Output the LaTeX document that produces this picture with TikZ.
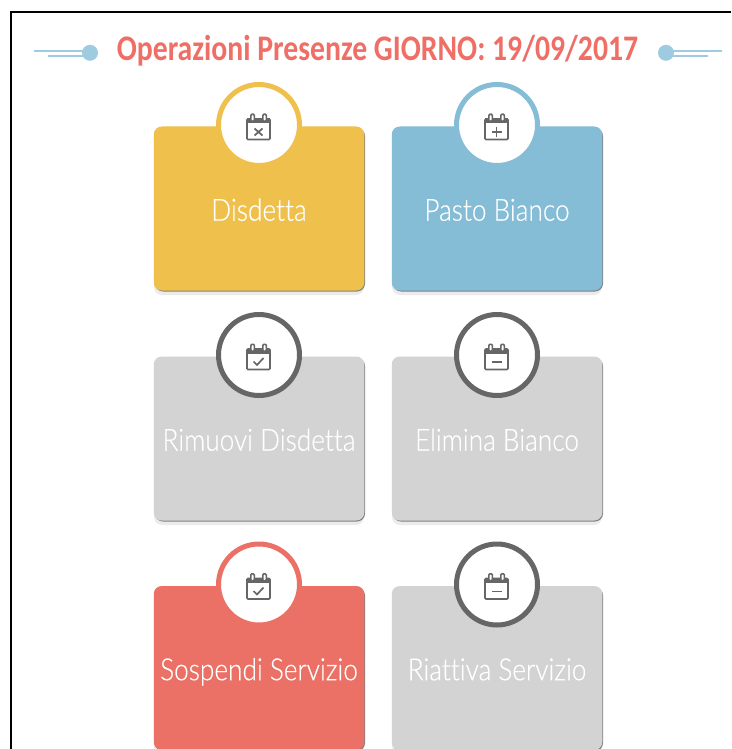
\documentclass[tikz,border=0pt]{standalone}
\usepackage{fontspec}
\setmainfont{Carlito}
\newfontfamily\titlefont[FakeStretch=0.825,Ligatures=NoCommon]{Carlito Bold}
\newfontfamily\labelfont[FakeStretch=0.86,FakeBold=0.35,Ligatures=NoCommon]{Lato Light}
\definecolor{cyellow}{HTML}{F0C04C}
\definecolor{cblue}{HTML}{85BCD6}
\definecolor{cgrey}{HTML}{D3D3D3}
\definecolor{cred}{HTML}{EB7065}
\definecolor{cring}{HTML}{666666}
\definecolor{cdeco}{HTML}{9ECBE0}
\definecolor{ctitle}{HTML}{EF6F66}
\tikzset{
  cardbox/.style={rounded corners=8pt,minimum width=210.5pt,minimum height=164pt,inner sep=0pt,draw=none},
  cardlabel/.style={text=white,font=\labelfont\fontsize{30.5}{30.5}\selectfont,inner sep=0pt,anchor=base},
  ringnode/.style={circle,fill=white,line width=5pt,minimum size=81pt,inner sep=0pt},
  decoline/.style={cdeco,line width=2pt},
  decodot/.style={circle,fill=cdeco,minimum size=16pt,inner sep=0pt},
  iconline/.style={cring,line width=1.6pt},
  iconmark/.style={cring,line width=1.7pt}
}
% #1 name, #2 card x centre, #3 row centre y, #4 colour, #5 ring colour, #6 label, #7 glyph
\newcommand{\opcard}[7]{%
  \fill[cgrey!45,rounded corners=8pt] (#2-105,#3-82+4) rectangle (#2+105,#3+82+4);
  \fill[black!50,rounded corners=8pt] (#2-104,#3-81) rectangle (#2+106,#3+82.5);
  \node[cardbox,fill=#4] (#1card) at (#2,#3-0.5) {};
  \node[ringnode,draw=#5] (#1ring) at (#2,#3-84) {};
  \node[cardlabel] (#1label) at (#2,#3+11.7) {#6};
  \begin{scope}[shift={(#1ring.center)},xshift=-0.5pt,yshift=-1.5pt]
    \draw[iconline,rounded corners=1pt] (-11.5,-7.5) rectangle (11.5,13);
    \fill[cring] (-11.5,-8) rectangle (11.5,-3);
    \foreach \ix in {-6,6}{
      \fill[cring,rounded corners=1.5pt] (\ix-2.5,-13) rectangle (\ix+2.5,-5);
      \fill[white,rounded corners=1pt] (\ix-1,-11.5) rectangle (\ix+1,-6);
    }
    #7
  \end{scope}
}
\newcommand{\glyphx}{\draw[iconmark] (-4,2) -- (4,9) (4,2) -- (-4,9);}
\newcommand{\glyphp}{\draw[iconmark] (-5,5.5) -- (5,5.5) (0,1) -- (0,10);}
\newcommand{\glyphc}{\draw[iconmark] (-5,5) -- (-1.5,8.5) -- (5,1.5);}
\newcommand{\glyphm}{\draw[iconmark] (-5,5.5) -- (5,5.5);}
\begin{document}
\begin{tikzpicture}[x=1pt,y=-1pt]
  \useasboundingbox (0,0) rectangle (731,749);
  \clip (0,0) rectangle (731,749);
  \fill[white] (0,0) rectangle (731,749);
  \coordinate (frameA) at (11,749);
  \coordinate (frameB) at (11,12);
  \coordinate (frameC) at (731,12);
  \draw[black,line width=2.4pt] (frameA) -- (frameB) -- (frameC);

  \node[decodot] (dotL) at (90,52.8) {};
  \node[decodot] (dotR) at (666,52.8) {};
  \coordinate (l1) at (34,50.7);
  \coordinate (l2) at (48,55.6);
  \coordinate (r1) at (721.5,50.7);
  \coordinate (r2) at (707.7,55.6);
  \draw[decoline] (l1) -- (dotL.center|-l1);
  \draw[decoline] (l2) -- (dotL.center|-l2);
  \draw[decoline] (r1) -- (dotR.center|-r1);
  \draw[decoline] (r2) -- (dotR.center|-r2);

  \node[text=ctitle,font=\titlefont\fontsize{36}{36}\selectfont,inner sep=0pt,anchor=base] (title) at (377.5,60.5) {Operazioni Presenze GIORNO: 19/09/2017};

  \opcard{a}{259}{209}{cyellow}{cyellow}{Disdetta}{\glyphx}
  \opcard{b}{497}{209}{cblue}{cblue}{Pasto Bianco}{\glyphp}
  \opcard{c}{259}{439}{cgrey}{cring}{Rimuovi Disdetta}{\glyphc}
  \opcard{d}{497}{439}{cgrey}{cring}{Elimina Bianco}{\glyphm}
  \opcard{e}{259}{668.5}{cred}{cred}{Sospendi Servizio}{\glyphc}
  \opcard{f}{497}{668.5}{cgrey}{cring}{Riattiva Servizio}{\glyphm}
\end{tikzpicture}
\end{document}
